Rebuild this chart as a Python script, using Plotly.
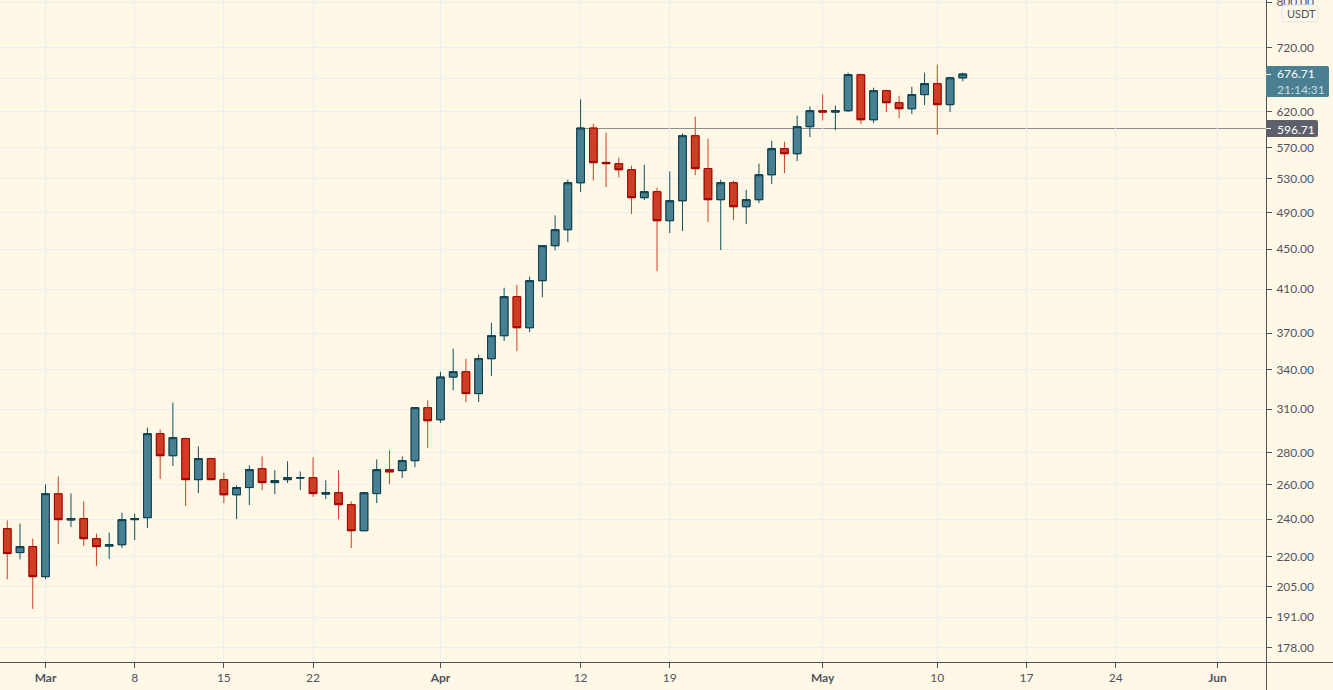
import numpy as np
import pandas as pd
import plotly.graph_objects as go

# daily candles (26 Feb - 12 May 2021)
dates = pd.date_range("2021-02-26", periods=76)
opens = [234.7, 222.0, 225.1, 209.9, 254.6, 239.5, 240.3, 229.3, 225.4, 226.1, 239.7, 240.8, 292.8, 278.2, 289.5,
         263.1, 276.3, 263.1, 254.0, 258.3, 269.9, 261.3, 263.1, 264.1, 264.3, 254.4, 255.2, 248.2, 233.6, 254.7,
         269.3, 268.7, 275.0, 311.1, 302.5, 334.1, 338.3, 321.5, 348.7, 367.9, 402.9, 374.8, 418.2, 453.7, 470.9,
         525.3, 596.7, 550.8, 549.2, 541.5, 507.4, 514.5, 480.9, 503.8, 586.1, 542.9, 505.0, 525.3, 496.8, 505.0,
         535.2, 568.7, 562.1, 598.6, 621.3, 619.3, 621.3, 675.6, 608.4, 650.9, 633.0, 624.2, 645.0, 661.7, 630.1,
         670.7]
highs = [239.3, 237.5, 229.3, 260.1, 265.1, 254.8, 250.1, 232.0, 232.6, 243.6, 243.1, 297.0, 295.6, 314.8, 290.1,
         284.3, 276.9, 267.4, 259.6, 272.0, 277.7, 268.9, 274.6, 268.2, 277.1, 262.7, 268.9, 250.1, 255.2, 275.8,
         281.7, 277.7, 311.1, 316.5, 338.3, 356.9, 348.7, 352.0, 379.2, 411.4, 414.2, 422.2, 453.7, 486.9, 529.1,
         637.9, 602.8, 590.3, 556.9, 546.6, 547.9, 519.3, 539.4, 589.3, 612.7, 582.1, 529.1, 527.8, 516.9, 549.2,
         579.4, 578.0, 614.2, 627.6, 645.4, 628.7, 678.8, 677.2, 655.5, 652.4, 643.4, 657.0, 678.8, 691.8, 672.4,
         678.8]
lows = [208.6, 218.5, 194.7, 208.7, 226.5, 235.6, 225.4, 215.2, 218.7, 224.4, 228.6, 235.0, 263.5, 271.6, 247.4,
        255.0, 263.1, 249.1, 240.0, 248.0, 256.8, 254.4, 261.0, 256.8, 252.7, 251.5, 240.0, 224.4, 233.6, 249.1,
        260.4, 264.1, 270.9, 283.2, 300.2, 323.9, 315.2, 315.2, 334.9, 363.3, 354.9, 371.0, 402.5, 448.8, 457.5,
        514.0, 528.2, 520.1, 531.9, 488.4, 504.5, 427.6, 467.2, 469.4, 534.7, 479.3, 449.1, 481.6, 477.1, 501.0,
        523.7, 537.3, 552.5, 584.3, 607.4, 593.9, 619.3, 602.2, 603.6, 619.3, 610.7, 616.4, 629.6, 587.4, 619.3,
        665.4]
closes = [221.5, 225.1, 209.9, 254.6, 239.7, 240.3, 229.3, 225.1, 226.1, 239.7, 240.3, 292.8, 278.2, 290.1, 263.1,
          276.3, 263.1, 254.0, 258.3, 269.3, 261.3, 262.5, 264.3, 264.3, 254.7, 255.2, 248.2, 233.6, 255.2, 269.3,
          267.9, 275.0, 311.1, 301.8, 334.1, 338.3, 321.5, 348.7, 367.9, 402.9, 374.8, 418.2, 453.7, 470.9, 525.3,
          596.7, 550.5, 549.2, 541.5, 507.4, 514.5, 480.9, 503.8, 586.1, 542.9, 505.0, 525.3, 496.8, 505.0, 535.2,
          568.7, 562.1, 598.6, 621.3, 619.3, 621.3, 675.6, 608.4, 650.9, 633.0, 624.2, 645.0, 661.7, 630.1, 670.7,
          676.71]

y_ticks = [800, 720, 670, 620, 570, 530, 490, 450, 410, 370, 340, 310, 280, 260, 240, 220, 205, 191, 178]
# the 670 label sits behind the last price tag, only its grid line shows
y_labels = ["800.00", "720.00", "", "620.00", "570.00", "530.00", "490.00", "450.00", "410.00", "370.00", "340.00",
            "310.00", "280.00", "260.00", "240.00", "220.00", "205.00", "191.00", "178.00"]
x_ticks = ["2021-03-01", "2021-03-08", "2021-03-15", "2021-03-22", "2021-04-01", "2021-04-12", "2021-04-19",
           "2021-05-01", "2021-05-10", "2021-05-17", "2021-05-24", "2021-06-01"]
x_labels = ["<b>Mar</b>", "8", "15", "22", "<b>Apr</b>", "12", "19", "<b>May</b>", "10", "17", "24", "<b>Jun</b>"]

last_price = "676.71"
countdown = "21:14:31"
level_price = 596.71
level_start = "2021-04-12"
quote_unit = "USDT"

W, H = 1333, 690
PLOT_R, PLOT_B = 1266, 662
BG = "#fff8e7"
GRID = "#ebf0ee"
AXIS = "#50535e"
FONT = "Lato"


def px(x):
    return x / PLOT_R


def py(y):
    return (PLOT_B - y) / PLOT_B


def round_box(x0, y0, x1, y1, r, left=True):
    # rounded box in pixels, converted to paper coords
    rl = r if left else 0
    pts = (f"M {px(x0 + rl)} {py(y0)} L {px(x1 - r)} {py(y0)} Q {px(x1)} {py(y0)} {px(x1)} {py(y0 + r)} "
           f"L {px(x1)} {py(y1 - r)} Q {px(x1)} {py(y1)} {px(x1 - r)} {py(y1)} L {px(x0 + rl)} {py(y1)} ")
    if left:
        pts += f"Q {px(x0)} {py(y1)} {px(x0)} {py(y1 - r)} L {px(x0)} {py(y0 + r)} Q {px(x0)} {py(y0)} {px(x0 + r)} {py(y0)} "
    return pts + "Z"


def label(x, y, text, color, size=12):
    return dict(xref="paper", yref="paper", x=px(x), y=py(y), text=text, showarrow=False, xanchor="left",
                yanchor="middle", align="left", borderpad=0, font=dict(family=FONT, size=size, color=color))


fig = go.Figure()
# wicks first, bodies on top since the wick and border colours differ
fig.add_trace(go.Candlestick(x=dates, open=opens, high=highs, low=lows, close=closes, whiskerwidth=0,
                             increasing=dict(line=dict(color="#0d4f5f", width=1), fillcolor="#488092"),
                             decreasing=dict(line=dict(color="#d04020", width=1), fillcolor="#cc3f24")))
fig.add_trace(go.Candlestick(x=dates, open=opens, close=closes, whiskerwidth=0,
                             high=np.maximum(opens, closes), low=np.minimum(opens, closes),
                             increasing=dict(line=dict(color="#0d3d4d", width=1), fillcolor="#488092"),
                             decreasing=dict(line=dict(color="#a00000", width=1), fillcolor="#cc3f24")))

shapes = [
    # price level line
    dict(type="line", xref="x", yref="y", x0=level_start, x1="2021-06-05", y0=level_price, y1=level_price,
         line=dict(color="#8c8c8c", width=1), layer="below"),
    # axes run on to the window edges
    dict(type="line", xref="paper", yref="paper", x0=1, x1=px(W), y0=0, y1=0, line=dict(color=AXIS, width=1)),
    dict(type="line", xref="paper", yref="paper", x0=1, x1=1, y0=0, y1=py(H), line=dict(color=AXIS, width=1)),
    # right hand price tags
    dict(type="path", xref="paper", yref="paper", path=round_box(PLOT_R, 66, 1329, 97, 2, left=False),
         fillcolor="#4a7f91", line=dict(width=0)),
    dict(type="path", xref="paper", yref="paper", path=round_box(PLOT_R, 120, 1318, 137, 2, left=False),
         fillcolor="#5d606b", line=dict(width=0)),
    dict(type="line", xref="paper", yref="paper", x0=1, x1=px(1271), y0=py(74), y1=py(74),
         line=dict(color="#ffffff", width=1)),
    dict(type="line", xref="paper", yref="paper", x0=1, x1=px(1271), y0=py(128), y1=py(128),
         line=dict(color="#ffffff", width=1)),
    # currency button
    dict(type="path", xref="paper", yref="paper", path=round_box(1282, 5, 1318, 22, 3),
         fillcolor=BG, line=dict(color="#e0e3eb", width=1)),
]

annotations = [
    label(1276, 82, f"{last_price}<br><span style='color:#c9dbe0'>{countdown}</span>", "#ffffff"),
    label(1276, 129, f"{level_price:.2f}", "#ffffff"),
    label(1286, 13.5, quote_unit, AXIS, size=11),
]

fig.update_layout(
    width=W, height=H, margin=dict(l=0, r=W - PLOT_R, t=0, b=H - PLOT_B, autoexpand=False),
    paper_bgcolor=BG, plot_bgcolor=BG, showlegend=False, boxgap=0.4, boxgroupgap=0,
    font=dict(family=FONT, size=12, color=AXIS),
    shapes=shapes, annotations=annotations,
)
fig.update_xaxes(type="date", range=["2021-02-25 10:17", "2021-06-04 19:12"], rangeslider_visible=False,
                 tickmode="array", tickvals=x_ticks, ticktext=x_labels, ticks="outside", ticklen=5,
                 tickcolor=AXIS, showline=True, linecolor=AXIS, linewidth=1, showgrid=True, gridcolor=GRID,
                 gridwidth=1, zeroline=False)
fig.update_yaxes(type="log", side="right", range=[2.23568, 2.90528], tickmode="array", tickvals=y_ticks,
                 ticktext=y_labels, ticks="outside", ticklen=5, tickcolor=AXIS,
                 showline=True, linecolor=AXIS, linewidth=1, showgrid=True, gridcolor=GRID, gridwidth=1,
                 zeroline=False, ticklabelstandoff=2, ticklabeloverflow="allow", automargin=False)

# straight shape lines would otherwise blur over two pixel rows
post = ("document.body.style.margin='0';document.body.style.background='%s';"
        "document.querySelectorAll('.shapelayer path').forEach(function(p){"
        "if(p.getAttribute('d').indexOf('Q')<0){p.style.shapeRendering='crispEdges';}});" % BG)
fig.write_html("out.html", config=dict(displayModeBar=False), post_script=post)
